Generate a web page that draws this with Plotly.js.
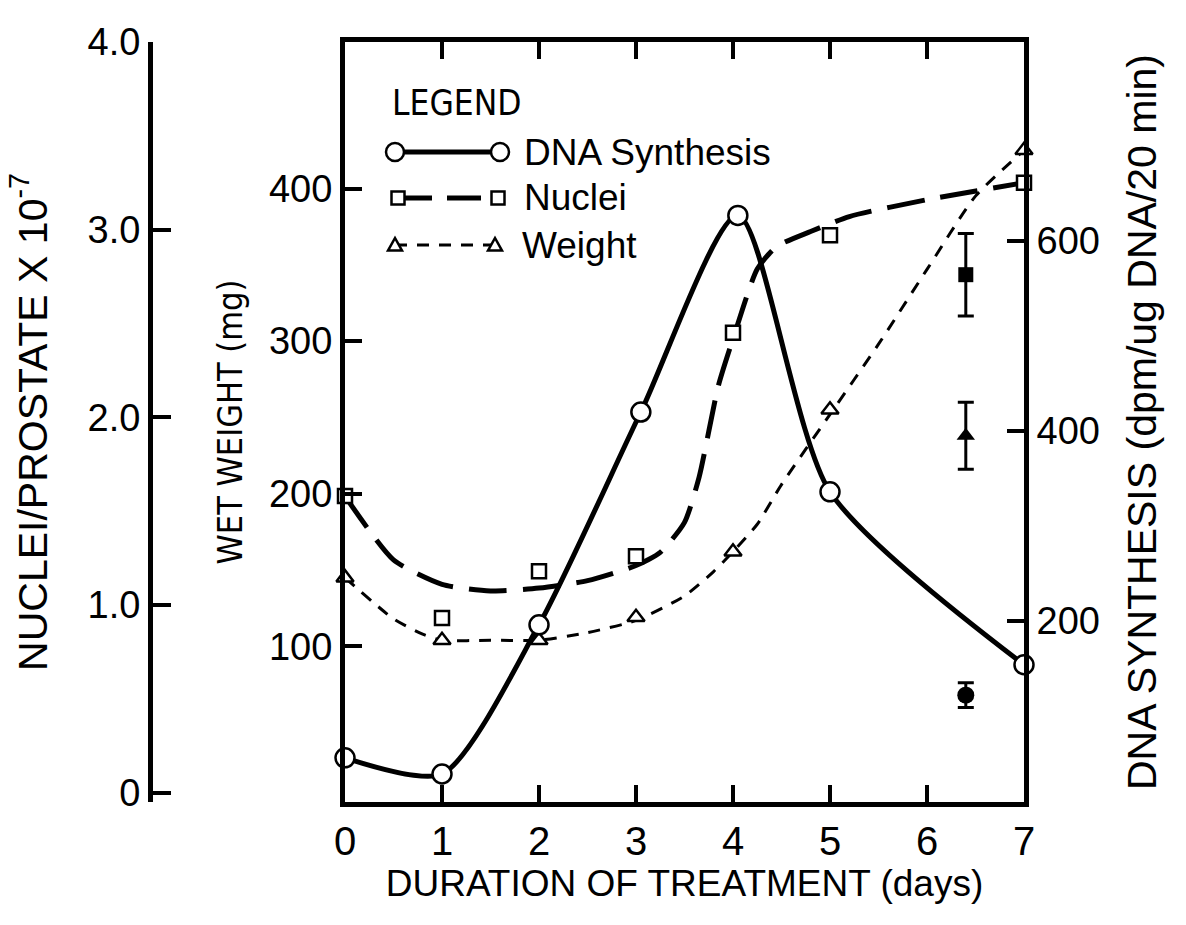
<!DOCTYPE html>
<html>
<head>
<meta charset="utf-8">
<script src="https://cdn.plot.ly/plotly-3.0.1.min.js"></script>
<style>
  html, body { margin: 0; padding: 0; background: #ffffff; }
  #graph { width: 1186px; height: 925px; }
</style>
</head>
<body>
<div id="graph"></div>
<script>
// days of treatment
const dayTicks = [0, 1, 2, 3, 4, 5, 6, 7];

// DNA synthesis (dpm/ug DNA/20 min), right axis
const dnaDays = [0, 1, 2, 3.05, 4.05, 5, 7];
const dnaSynthesis = [56, 39, 196, 420, 627, 336, 154];

// nuclei per prostate (x 10^-7), outer left axis
const nucleiDays = [0, 1, 2, 3, 4, 5, 7];
const nuclei = [1.58, 0.93, 1.18, 1.26, 2.45, 2.97, 3.25];

// wet weight (mg), inner left axis
const weightDays = [0, 1, 2, 3, 4, 5, 7];
const weight = [145, 104, 104, 119, 162, 255, 425];

// hand drawn curves
const nucleiCurveDays = [0, 0.5, 1, 1.5, 2, 2.5, 3, 3.25, 3.5, 3.65, 3.85, 4.02, 4.25, 4.45, 4.8, 5.2, 6, 7];
const nucleiCurve = [1.58, 1.24, 1.11, 1.075, 1.09, 1.13, 1.21, 1.28, 1.44, 1.68, 2.17, 2.45, 2.79, 2.91, 2.99, 3.07, 3.16, 3.25];
const weightCurveDays = [0, 0.5, 0.8, 1, 1.5, 2, 2.5, 3, 3.5, 3.8, 4, 4.25, 4.5, 5, 5.5, 6, 6.5, 7];
const weightCurve = [145, 118, 108, 104, 104, 104, 109, 117, 133, 149, 162, 180, 206, 252, 298, 347, 395, 425];

// controls (filled symbols) with error bars
const controlDay = [6.4];
const nucleiControl = [2.76];
const nucleiControlErr = [0.22];
const weightControl = [238];
const weightControlErr = [22];
const dnaControl = [122];
const dnaControlErr = [13];

// tick labels
const nucleiTicks = [0, 1, 2, 3, 4];
const nucleiTickText = ['0', '1.0', '2.0', '3.0', '4.0'];
const weightTicks = [100, 200, 300, 400];
const dnaTicks = [200, 400, 600];

const seriesNames = ['DNA Synthesis', 'Nuclei', 'Weight'];

const FONT = 'Liberation Sans, Arial, sans-serif';
const NARROW = 'Liberation Sans Narrow, Arial Narrow, DejaVu Sans Condensed, sans-serif';

const openMarker = (symbol, size) => ({
  symbol: symbol, size: size, color: '#ffffff',
  line: { color: '#000000', width: 2.5 }
});

const errBar = (arr) => ({
  type: 'data', array: arr, visible: true,
  color: '#000000', thickness: 3, width: 8
});

let data = [
  {
    x: nucleiCurveDays, y: nucleiCurve, yaxis: 'y3', mode: 'lines',
    line: { color: '#000000', width: 5, dash: '38px,16px', shape: 'spline', smoothing: 0.6 },
    cliponaxis: false, showlegend: false, hoverinfo: 'skip'
  },
  {
    x: weightCurveDays, y: weightCurve, yaxis: 'y', mode: 'lines',
    line: { color: '#000000', width: 3, dash: '12px,10px', shape: 'spline', smoothing: 0.6 },
    cliponaxis: false, showlegend: false, hoverinfo: 'skip'
  },
  {
    name: seriesNames[0], x: dnaDays, y: dnaSynthesis, yaxis: 'y2', mode: 'lines+markers',
    line: { color: '#000000', width: 5, shape: 'spline', smoothing: 0.7 },
    marker: openMarker('circle', 19),
    cliponaxis: false, showlegend: false
  },
  {
    name: seriesNames[1], x: nucleiDays, y: nuclei, yaxis: 'y3', mode: 'markers',
    marker: openMarker('square', 14),
    cliponaxis: false, showlegend: false
  },
  {
    name: seriesNames[2], x: weightDays, y: weight, yaxis: 'y', mode: 'markers',
    marker: openMarker('triangle-up', 15),
    cliponaxis: false, showlegend: false
  },
  {
    x: controlDay, y: nucleiControl, yaxis: 'y3', mode: 'markers',
    marker: { symbol: 'square', size: 15, color: '#000000' },
    error_y: errBar(nucleiControlErr), cliponaxis: false, showlegend: false
  },
  {
    x: controlDay, y: weightControl, yaxis: 'y', mode: 'markers',
    marker: { symbol: 'triangle-up', size: 16, color: '#000000' },
    error_y: errBar(weightControlErr), cliponaxis: false, showlegend: false
  },
  {
    x: controlDay, y: dnaControl, yaxis: 'y2', mode: 'markers',
    marker: { symbol: 'circle', size: 17, color: '#000000' },
    error_y: errBar(dnaControlErr), cliponaxis: false, showlegend: false
  }
];

// legend drawn by hand, markers at both ends like the original
const px = (x) => (x - 150) / 874;
const py = (y) => (802 - y) / 760;

function markerShape(kind, x, y, r) {
  let s = {
    xref: 'paper', yref: 'paper', xsizemode: 'pixel', ysizemode: 'pixel',
    xanchor: px(x), yanchor: py(y),
    line: { color: '#000000', width: 2.5 }, fillcolor: '#ffffff', layer: 'above'
  };
  if (kind === 'triangle') {
    s.type = 'path';
    s.path = `M${-r},${-r * 0.8} L${r},${-r * 0.8} L0,${r} Z`;
  } else {
    s.type = kind === 'circle' ? 'circle' : 'rect';
    s.x0 = -r; s.x1 = r; s.y0 = -r; s.y1 = r;
  }
  return s;
}

const legendRows = [
  { y: 152, kind: 'circle', r: 9, x0: 395, x1: 500, width: 5, dash: 'solid', tx: 522 },
  { y: 198, kind: 'square', r: 6.5, x0: 398, x1: 498, width: 5, dash: '34px,15px', tx: 522 },
  { y: 245, kind: 'triangle', r: 7, x0: 395, x1: 495, width: 3, dash: '12px,10px', tx: 520 }
];

let shapes = [];
let annotations = [{
  text: 'LEGEND', xref: 'paper', yref: 'paper', x: px(390), y: py(103),
  xanchor: 'left', yanchor: 'middle', showarrow: false,
  font: { family: NARROW, size: 35, color: '#000000' }
}];

legendRows.forEach((row, i) => {
  shapes.push({
    type: 'line', xref: 'paper', yref: 'paper',
    x0: px(row.x0), x1: px(row.x1), y0: py(row.y), y1: py(row.y),
    line: { color: '#000000', width: row.width, dash: row.dash }
  });
  shapes.push(markerShape(row.kind, row.x0, row.y, row.r));
  shapes.push(markerShape(row.kind, row.x1, row.y, row.r));
  annotations.push({
    text: seriesNames[i], xref: 'paper', yref: 'paper', x: px(row.tx), y: py(row.y),
    xanchor: 'left', yanchor: 'middle', showarrow: false,
    font: { family: FONT, size: 37, color: '#000000' }
  });
});

const axisBase = {
  showline: true, linecolor: '#000000', linewidth: 5,
  ticks: 'inside', ticklen: 17, tickwidth: 4, tickcolor: '#000000',
  showgrid: false, zeroline: false, automargin: false,
  tickfont: { family: FONT, size: 38, color: '#000000' }
};

let layout = {
  width: 1186, height: 925,
  margin: { l: 150, r: 162, t: 42, b: 123, pad: 0 },
  paper_bgcolor: '#ffffff', plot_bgcolor: '#ffffff',
  font: { family: FONT, color: '#000000' },
  showlegend: false,
  xaxis: Object.assign({}, axisBase, {
    domain: [195 / 874, 1], range: [0, 7],
    tickvals: dayTicks, mirror: 'ticks',
    tickfont: { family: FONT, size: 40, color: '#000000' },
    title: { text: 'DURATION OF TREATMENT (days)', standoff: 4,
      font: { family: FONT, size: 37, color: '#000000' } }
  }),
  yaxis: Object.assign({}, axisBase, {
    anchor: 'x', range: [-2, 496], tickvals: weightTicks,
    title: { text: 'WET WEIGHT (mg)', standoff: 18,
      font: { family: NARROW, size: 34, color: '#000000' } }
  }),
  yaxis2: Object.assign({}, axisBase, {
    anchor: 'x', overlaying: 'y', side: 'right', range: [9.5, 809.5], tickvals: dnaTicks,
    title: { text: 'DNA SYNTHESIS (dpm/ug DNA/20 min)', standoff: 30,
      font: { family: FONT, size: 41, color: '#000000' } }
  }),
  yaxis3: Object.assign({}, axisBase, {
    anchor: 'free', position: 0, overlaying: 'y', side: 'left',
    range: [-0.05, 4], tickvals: nucleiTicks, ticktext: nucleiTickText, ticklen: 18,
    title: { text: 'NUCLEI/PROSTATE X 10<sup>-7</sup>', standoff: 26,
      font: { family: FONT, size: 41, color: '#000000' } }
  }),
  shapes: shapes,
  annotations: annotations
};

Plotly.newPlot('graph', data, layout, { staticPlot: true, displayModeBar: false });
</script>
</body>
</html>
